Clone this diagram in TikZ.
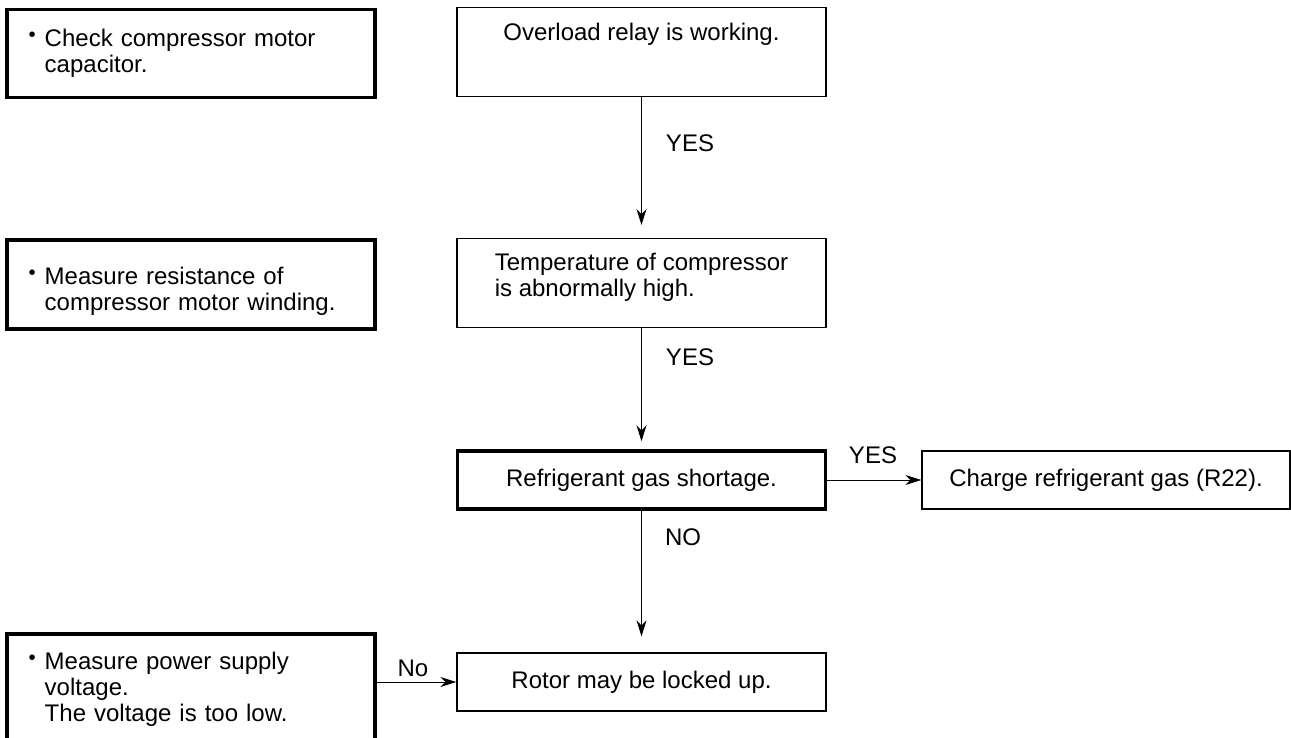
\documentclass[tikz,border=0pt]{standalone}
\usepackage{graphicx}
\usepackage{fontspec}
\setmainfont{Liberation Sans}
\usetikzlibrary{arrows.meta}
\newcommand{\bul}{\makebox[8pt][l]{\raisebox{2.5pt}{\scalebox{0.85}{\textbullet}}}}
\tikzstyle{stepbox}=[draw, rectangle, line width=0.65pt, minimum width=184.5pt, minimum height=29pt, inner sep=0pt, align=center, font=\fontsize{12}{13}\selectfont]
\tikzstyle{checkbox}=[stepbox, line width=1.75pt, align=left, anchor=north west, minimum width=184pt, text width=162pt, inner xsep=11pt]
\tikzstyle{flow}=[-{Stealth[length=8pt, width=5pt]}, line width=0.5pt]
\tikzstyle{lbl}=[font=\fontsize{12}{13}\selectfont, inner sep=0pt]

\begin{document}
\begin{tikzpicture}[x=0.5pt, y=-0.5pt]
                \clip (0,0) rectangle (1291,738);
                \node[checkbox, minimum height=44pt] (cap) at (5,8) {\bul Check compressor motor\\\hspace*{8pt}capacitor.};
                \node[checkbox, minimum height=44.5pt, text depth=8pt] (wind) at (5,238) {\bul Measure resistance of\\\hspace*{8pt}compressor motor winding.};
                \node[checkbox, minimum height=56pt] (volt) at (5,632) {\bul Measure power supply\\\hspace*{8pt}voltage.\\\hspace*{8pt}The voltage is too low.};
                \node[stepbox, anchor=north, minimum height=44.5pt, text depth=20pt] (relay) at (641.5,7) {Overload relay is working.};
                \node[stepbox, anchor=north, minimum height=44.5pt, text depth=8pt, align=left] (temp) at (641.5,238) {Temperature of compressor\\is abnormally high.};
                \node[stepbox, line width=1.75pt, minimum width=184pt] (gas) at (641.5,480) {Refrigerant gas shortage.};
                \node[stepbox, minimum width=184pt] (charge) at (1106,480) {Charge refrigerant gas (R22).};
                \node[stepbox] (rotor) at (641.5,682) {Rotor may be locked up.};
                \node[lbl] (yes1) at (690,143) {YES};
                \node[lbl] (yes2) at (690,357) {YES};
                \node[lbl] (yes3) at (873,455) {YES};
                \node[lbl] (no1) at (683,537) {NO};
                \node[lbl] (no2) at (413,668) {No};
                \draw[flow, shorten >=6.5pt] (relay)--(temp);
                \draw[flow, shorten >=4pt]   (temp)--(gas);
                \draw[flow, shorten >=8pt]   (gas)--(rotor);
                \draw[flow] (gas)--(charge);
                \draw[flow] (volt.east |- rotor)--(rotor);
            \end{tikzpicture}
\end{document}
